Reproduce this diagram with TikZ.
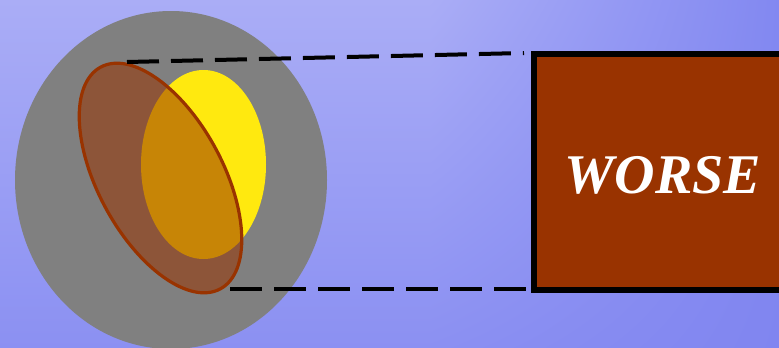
\documentclass[tikz,border=0pt]{standalone}
\usepackage{fontspec}
\setmainfont{Liberation Serif}
\usetikzlibrary{shapes.geometric,shadings}
\definecolor{bgTop}{RGB}{170,173,246}
\definecolor{bgBot}{RGB}{139,144,242}
\definecolor{bgUR}{RGB}{130,136,241}
\definecolor{bgLR}{RGB}{128,133,240}
\definecolor{shellgray}{RGB}{128,128,128}
\definecolor{coreyellow}{RGB}{255,233,15}
\definecolor{rust}{RGB}{153,51,0}
\tikzset{
  shellshape/.style={ellipse, fill=shellgray, draw=none, inner sep=0pt, minimum width=312pt, minimum height=338pt},
  coreshape/.style={ellipse, fill=coreyellow, draw=none, inner sep=0pt, minimum width=125pt, minimum height=189pt},
  tiltshape/.style={ellipse, fill=rust, fill opacity=0.55, draw=rust, draw opacity=1, line width=3.2pt, inner sep=0pt, minimum width=252pt, minimum height=125pt},
  boxshape/.style={rectangle, fill=rust, draw=black, line width=6pt, inner sep=0pt, minimum width=256pt, minimum height=236pt},
  linkline/.style={draw=black, line width=4pt, dash pattern=on 32pt off 12pt},
  wordlabel/.style={text=white, font=\fontsize{56}{60}\selectfont\bfseries\itshape, inner sep=0pt}
}
\begin{document}
\begin{tikzpicture}[x=1pt, y=-1pt]
\useasboundingbox (0,0) rectangle (779,348);
\clip (0,0) rectangle (779,348);
\shade[upper left=bgTop, upper right=bgTop, lower left=bgBot, lower right=bgBot] (-1,-1) rectangle (431,349);
\shade[upper left=bgTop, upper right=bgUR, lower left=bgBot, lower right=bgLR] (430,-1) rectangle (780,349);
\node[shellshape] (shell) at (171,180) {};
\node[coreshape] (core) at (203.5,164.5) {};
\node[tiltshape, rotate=-61.65] (tilt) at (160.5,178) {};
\node[boxshape] (box) at (662,172) {};
\node[wordlabel] (word) at (663,175) {WORSE};
\coordinate (ua) at (127,62);
\coordinate (ub) at (524,53);
\coordinate (la) at (230,289);
\coordinate (lb) at (531,289);
\draw[linkline] (ua) -- (ub);
\draw[linkline] (la) -- (lb);
\end{tikzpicture}
\end{document}
